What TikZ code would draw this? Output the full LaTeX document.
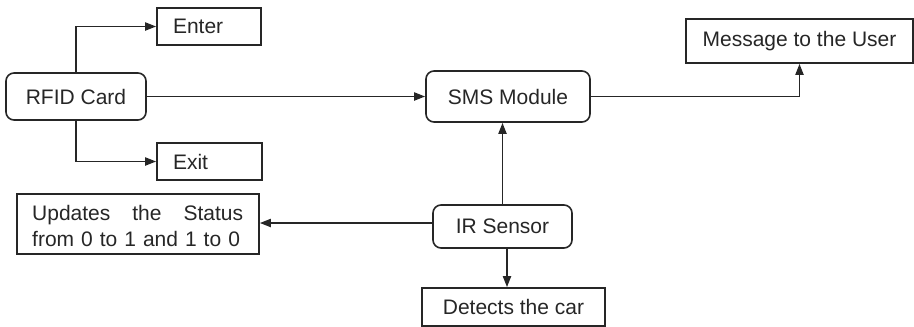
\documentclass[tikz,border=0pt]{standalone}
\usepackage{fontspec}
\setmainfont{Liberation Sans}
\usetikzlibrary{arrows.meta,calc}
\begin{document}
\begin{tikzpicture}[x=1pt,y=-1pt,
  every node/.style={font=\fontsize{21}{26}\selectfont, text=black!85, inner sep=0pt},
  box/.style={draw=black!85, line width=1.6pt, rectangle, anchor=center},
  rbox/.style={box, rounded corners=8pt},
  arr/.style={draw=black!85, line width=1.8pt, -{Triangle[length=11pt,width=8pt]}}]
\useasboundingbox (0,0) rectangle (914,327);
\node[box, minimum width=104pt, minimum height=37pt, text width=72pt, align=left] (enter) at (209,26.5) {Enter};
\node[rbox, minimum width=140pt, minimum height=47pt] (rfid) at (76,96.5) {RFID Card};
\node[box, minimum width=105pt, minimum height=37pt, text width=73pt, align=left] (exit) at (209.5,161.5) {Exit};
\node[rbox, minimum width=164pt, minimum height=51pt] (sms) at (508,96.5) {SMS Module};
\node[box, minimum width=227pt, minimum height=44pt] (msg) at (799.5,41) {Message to the User};
\node[rbox, minimum width=139pt, minimum height=43pt] (ir) at (502.5,226.5) {IR Sensor};
\node[box, minimum width=183pt, minimum height=38pt] (det) at (513.5,307) {Detects the car};
\node[box, minimum width=242pt, minimum height=60pt] (upd) at (138,224) {};
\node[text width=211pt, align=left, anchor=north west] (updtxt) at (32,205) {\makebox[211pt][l]{Updates\hfill the\hfill Status}\\from 0 to 1 and 1 to 0};
\draw[arr] (rfid.north) |- (enter.west);
\draw[arr] (rfid.south) |- (exit.west);
\draw[arr] (rfid.east) -- (sms.west);
\draw[arr] (sms.east) -| (msg.south);
\draw[arr] (ir.north) -- (ir.north |- sms.south);
\draw[arr] (ir.west |- 0,223) -- (upd.east |- 0,223);
\draw[arr] ([xshift=4.5pt]ir.south) -- ([xshift=4.5pt]ir.south |- det.north);
\end{tikzpicture}
\end{document}
